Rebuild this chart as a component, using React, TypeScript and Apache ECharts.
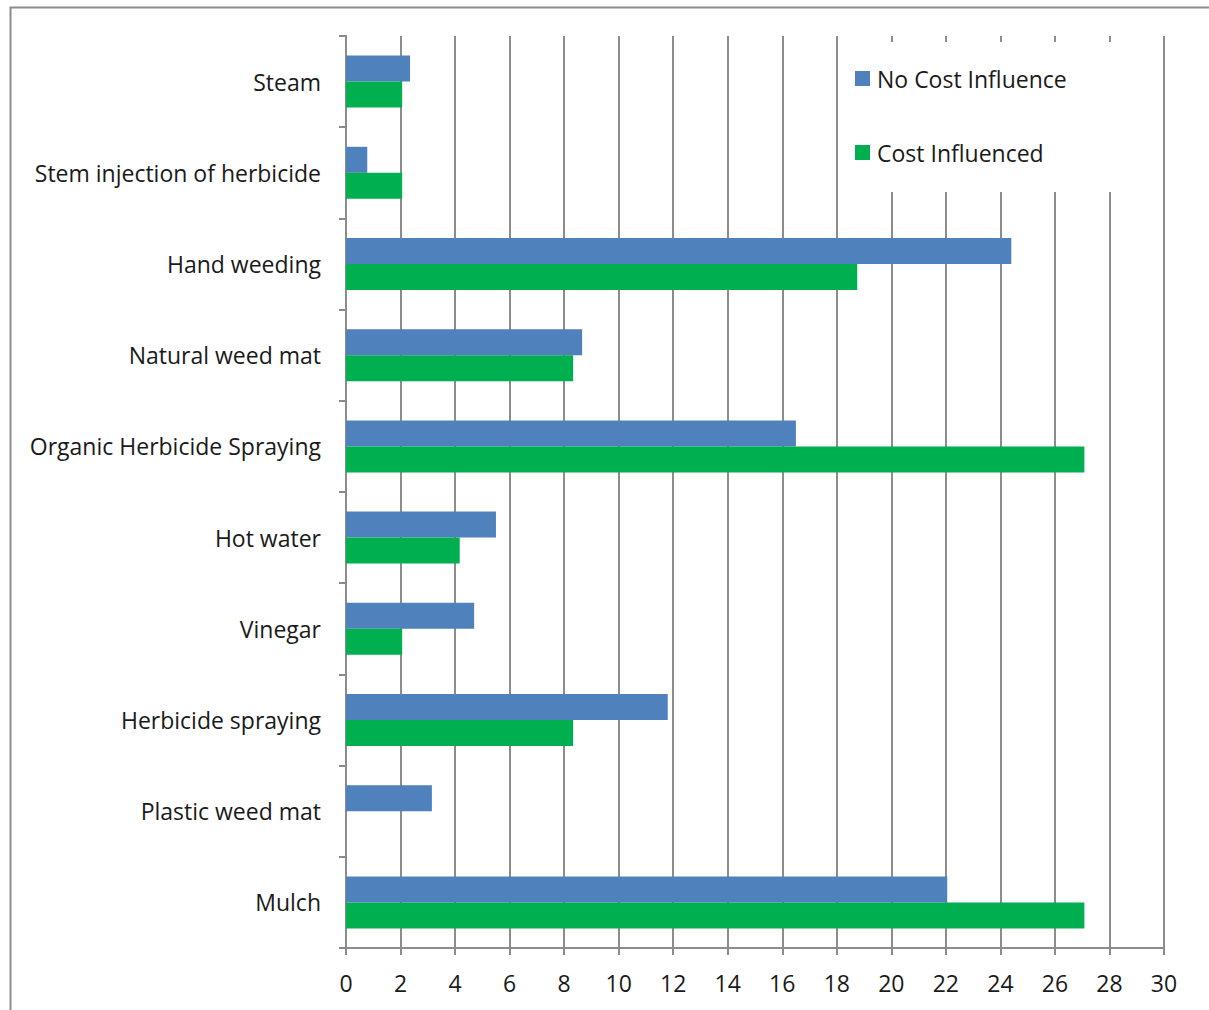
import React, { useEffect, useRef } from "react";
import * as echarts from "echarts";

const categories = [
  "Steam",
  "Stem injection of herbicide",
  "Hand weeding",
  "Natural weed mat",
  "Organic Herbicide Spraying",
  "Hot water",
  "Vinegar",
  "Herbicide spraying",
  "Plastic weed mat",
  "Mulch",
];
const noCostInfluence = [2.35, 0.78, 24.4, 8.66, 16.5, 5.5, 4.7, 11.8, 3.15, 22.05];
const costInfluenced = [2.06, 2.06, 18.75, 8.33, 27.08, 4.17, 2.06, 8.33, 0, 27.08];
const seriesNames = ["No Cost Influence", "Cost Influenced"];

const FONT = "'Open Sans', 'Noto Sans', sans-serif";
const GRAY = "#8c8c8c";

export default function App() {
  const ref = useRef<HTMLDivElement>(null);
  useEffect(() => {
    if (!ref.current) return;
    const chart = echarts.init(ref.current, null, { renderer: "svg" });
    chart.setOption({
      animation: false,
      backgroundColor: "#ffffff",
      textStyle: { fontFamily: FONT },
      graphic: [
        {
          type: "rect",
          shape: { x: 10.5, y: 7.5, width: 1220, height: 1020 },
          style: { fill: "none", stroke: GRAY, lineWidth: 2 },
          z: 10,
        },
      ],
      grid: { left: 346, top: 36, right: 45, bottom: 62, containLabel: false },
      legend: {
        orient: "vertical",
        left: 846,
        top: 42,
        padding: [25, 85, 28, 9],
        itemGap: 51,
        itemWidth: 15,
        itemHeight: 15,
        backgroundColor: "#ffffff",
        icon: "rect",
        textStyle: { fontSize: 23, color: "#1a1a1a", fontFamily: FONT, padding: [0, 0, 0, 2] },
        data: seriesNames,
        z: 20,
      },
      xAxis: {
        type: "value",
        min: 0,
        max: 30,
        interval: 2,
        axisLine: { show: true, lineStyle: { color: GRAY, width: 2 } },
        axisTick: { show: true, length: 7, lineStyle: { color: GRAY, width: 2 } },
        splitLine: { show: true, lineStyle: { color: GRAY, width: 2 } },
        axisLabel: { fontSize: 23, color: "#1a1a1a", margin: 23, fontFamily: FONT },
      },
      yAxis: {
        type: "category",
        inverse: true,
        data: categories,
        axisLine: { show: true, lineStyle: { color: GRAY, width: 2 } },
        axisTick: { show: true, length: 7, lineStyle: { color: GRAY, width: 2 } },
        axisLabel: {
          fontSize: 23,
          color: "#1a1a1a",
          margin: 25,
          fontFamily: FONT,
          verticalAlign: "middle",
          lineHeight: 23,
          padding: [0, 0, 4, 0],
        },
      },
      series: [
        {
          name: seriesNames[0],
          type: "bar",
          data: noCostInfluence,
          barWidth: 26,
          barGap: "0%",
          itemStyle: { color: "#4F81BD" },
        },
        {
          name: seriesNames[1],
          type: "bar",
          data: costInfluenced,
          barWidth: 26,
          barGap: "0%",
          itemStyle: { color: "#00B050" },
        },
      ],
    });
    return () => chart.dispose();
  }, []);
  return (
    <div
      ref={ref}
      style={{ position: "absolute", left: 0, top: 0, width: 1209, height: 1010 }}
    />
  );
}
